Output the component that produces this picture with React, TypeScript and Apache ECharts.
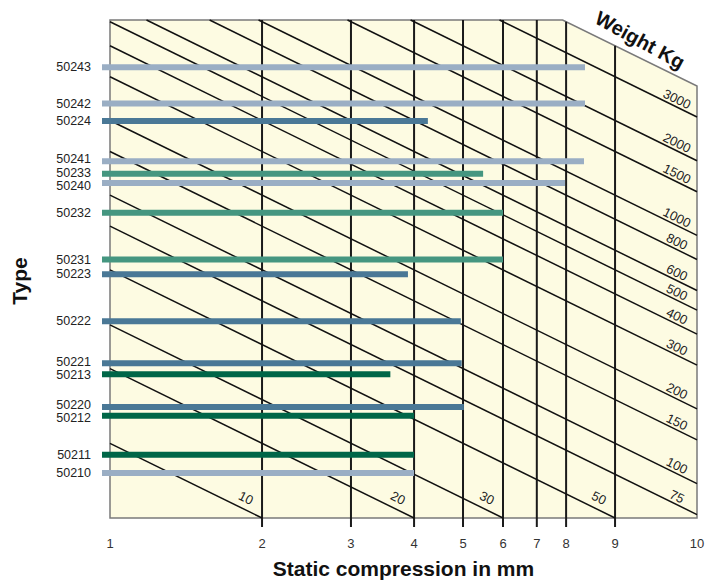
import React, { useEffect, useRef } from 'react';
import * as echarts from 'echarts';

// Isolator types, their spring stiffness (kg/mm) and maximum static compression (mm)
const TYPES = ['50243', '50242', '50224', '50241', '50233', '50240', '50232', '50231', '50223', '50222', '50221', '50213', '50220', '50212', '50211', '50210'];
const STIFFNESS_KG_PER_MM = [328, 234, 199, 137, 122, 112, 85, 55, 48, 31, 21, 19, 14, 12.9, 9, 7.6];
const MAX_COMPRESSION_MM = [8.72, 8.72, 4.26, 8.68, 5.48, 7.96, 6, 6, 3.89, 4.95, 4.97, 3.59, 5.02, 4, 4, 4];
const TYPE_GROUP = ['light', 'light', 'mid', 'light', 'teal', 'light', 'teal', 'teal', 'mid', 'mid', 'mid', 'dark', 'mid', 'dark', 'dark', 'light'];

// Weight lines of the nomogram (kg)
const WEIGHT_LINES_KG = [10, 20, 30, 50, 75, 100, 150, 200, 300, 400, 500, 600, 800, 1000, 1500, 2000, 3000];
const EDGE_WEIGHT_KG = 4000;

// Axis ranges and tick labels
const X_MIN = 1;
const X_MAX = 14.53;
const K_MIN = 5;
const K_MAX = 508;
const X_TICK_VALUES = [1, 2, 3, 4, 5, 6, 7, 8, 10, 14.53];
const X_TICK_LABELS = ['1', '2', '3', '4', '5', '6', '7', '8', '9', '10'];

const GROUP_COLORS: Record<string, string> = {
  light: '#9AAEC4',
  mid: '#4A7896',
  teal: '#459680',
  dark: '#006648',
};

const FONT = '"Liberation Sans", Arial, Helvetica, sans-serif';
const LABEL_GAP = 13.2;

function tickLabel(v: number): string {
  let best = 0;
  let bestD = Infinity;
  X_TICK_VALUES.forEach((t, i) => {
    const d = Math.abs(Math.log(v) - Math.log(t));
    if (d < bestD) {
      bestD = d;
      best = i;
    }
  });
  return X_TICK_LABELS[best];
}

// spread label positions so that neighbouring labels do not overlap
function spreadLabels(ys: number[]): number[] {
  const order = ys.map((_y, i) => i).sort((a, b) => ys[a] - ys[b]);
  const out = ys.slice();
  for (let iter = 0; iter < 40; iter++) {
    let moved = false;
    for (let j = 1; j < order.length; j++) {
      const a = order[j - 1];
      const b = order[j];
      const gap = out[b] - out[a];
      if (gap < LABEL_GAP - 0.01) {
        const push = (LABEL_GAP - gap) / 2;
        out[a] -= push;
        out[b] += push;
        moved = true;
      }
    }
    if (!moved) break;
  }
  return out;
}

export default function App() {
  const ref = useRef<HTMLDivElement>(null);

  useEffect(() => {
    if (!ref.current) return;
    const chart = echarts.init(ref.current, null, { renderer: 'svg' });

    const option: any = {
      animation: false,
      backgroundColor: '#ffffff',
      grid: { left: 110, right: 15, top: 20, bottom: 62 },
      xAxis: {
        type: 'log',
        min: X_MIN,
        max: X_MAX,
        logBase: 10,
        name: 'Static compression in mm',
        nameLocation: 'middle',
        nameGap: 40,
        nameTextStyle: { fontFamily: FONT, fontWeight: 'bold', fontSize: 21, color: '#111' },
        axisLine: { show: false },
        axisTick: { show: false },
        splitLine: { show: false },
        minorTick: { show: false },
        minorSplitLine: { show: false },
        axisLabel: {
          customValues: X_TICK_VALUES,
          formatter: (v: number) => tickLabel(v),
          margin: 19,
          fontFamily: FONT,
          fontSize: 13,
          color: '#333',
          showMinLabel: true,
          showMaxLabel: true,
        },
      },
      yAxis: {
        type: 'log',
        min: K_MIN,
        max: K_MAX,
        logBase: 10,
        show: false,
      },
      graphic: [
        {
          type: 'text',
          x: 19,
          y: 281,
          rotation: Math.PI / 2,
          style: {
            text: 'Type',
            font: `bold 21px ${FONT}`,
            fill: '#111',
            align: 'center',
            verticalAlign: 'middle',
          },
        },
        {
          type: 'text',
          x: 640,
          y: 40,
          rotation: -0.5,
          style: {
            text: 'Weight Kg',
            font: `bold 20px ${FONT}`,
            fill: '#111',
            align: 'center',
            verticalAlign: 'middle',
          },
        },
      ],
      series: [
        // background of the nomogram
        {
          type: 'custom',
          z: 1,
          silent: true,
          data: [[X_MIN, K_MIN]],
          renderItem: (_params: any, api: any) => {
            const pts = [
              api.coord([X_MIN, K_MAX]),
              api.coord([EDGE_WEIGHT_KG / K_MAX, K_MAX]),
              api.coord([X_MAX, EDGE_WEIGHT_KG / X_MAX]),
              api.coord([X_MAX, K_MIN]),
              api.coord([X_MIN, K_MIN]),
            ];
            return {
              type: 'polygon',
              shape: { points: pts },
              style: { fill: '#FDFBE2', stroke: '#7a7a7a', lineWidth: 1.5 },
            };
          },
        },
        // vertical grid lines with ticks
        {
          type: 'custom',
          z: 2,
          silent: true,
          data: X_TICK_VALUES.slice(1, 9).map((v) => [v, K_MIN]),
          renderItem: (_params: any, api: any) => {
            const v = api.value(0);
            const topK = Math.min(K_MAX, EDGE_WEIGHT_KG / v);
            const p0 = api.coord([v, topK]);
            const p1 = api.coord([v, K_MIN]);
            return {
              type: 'line',
              shape: { x1: p0[0], y1: p0[1], x2: p1[0], y2: p1[1] + 9 },
              style: { stroke: '#1a1a1a', lineWidth: 2 },
            };
          },
        },
        // weight lines
        {
          type: 'custom',
          z: 3,
          silent: true,
          data: WEIGHT_LINES_KG.map((w) => [X_MIN, w]),
          renderItem: (_params: any, api: any) => {
            const W = api.value(1);
            const x0 = Math.max(X_MIN, W / K_MAX);
            const x1 = Math.min(X_MAX, W / K_MIN);
            const p0 = api.coord([x0, W / x0]);
            const p1 = api.coord([x1, W / x1]);
            const angle = Math.atan2(p1[1] - p0[1], p1[0] - p0[0]);
            const atRight = x1 >= X_MAX - 1e-9;
            const off = atRight ? [-20, -18] : [-16, -20];
            return {
              type: 'group',
              children: [
                {
                  type: 'line',
                  shape: { x1: p0[0], y1: p0[1], x2: p1[0], y2: p1[1] },
                  style: { stroke: '#111', lineWidth: 1.5 },
                },
                {
                  type: 'text',
                  x: p1[0] + off[0],
                  y: p1[1] + off[1],
                  rotation: -angle,
                  style: {
                    text: String(W),
                    fontFamily: FONT,
                    fontSize: 13,
                    fill: '#222',
                    align: 'center',
                    verticalAlign: 'middle',
                  },
                },
              ],
            };
          },
        },
        // type bars
        {
          type: 'custom',
          z: 4,
          silent: true,
          data: TYPES.map((_t, i) => [MAX_COMPRESSION_MM[i], STIFFNESS_KG_PER_MM[i]]),
          renderItem: (params: any, api: any) => {
            const i = params.dataIndex;
            const end = api.coord([api.value(0), api.value(1)]);
            const start = api.coord([X_MIN, api.value(1)]);
            const barYs = STIFFNESS_KG_PER_MM.map((k) => api.coord([X_MIN, k])[1]);
            const labelYs = spreadLabels(barYs);
            return {
              type: 'group',
              children: [
                {
                  type: 'rect',
                  shape: { x: start[0] - 8, y: end[1] - 3, width: end[0] - start[0] + 8, height: 6 },
                  style: { fill: GROUP_COLORS[TYPE_GROUP[i]] },
                },
                {
                  type: 'text',
                  x: start[0] - 19,
                  y: labelYs[i],
                  style: {
                    text: TYPES[i],
                    fontFamily: FONT,
                    fontSize: 12.5,
                    lineHeight: 12,
                    fill: '#222',
                    align: 'right',
                    verticalAlign: 'middle',
                  },
                },
              ],
            };
          },
        },
      ],
    };

    chart.setOption(option);
    return () => chart.dispose();
  }, []);

  return (
    <div
      ref={ref}
      style={{ position: 'absolute', left: 0, top: 0, width: 712, height: 584 }}
    />
  );
}
